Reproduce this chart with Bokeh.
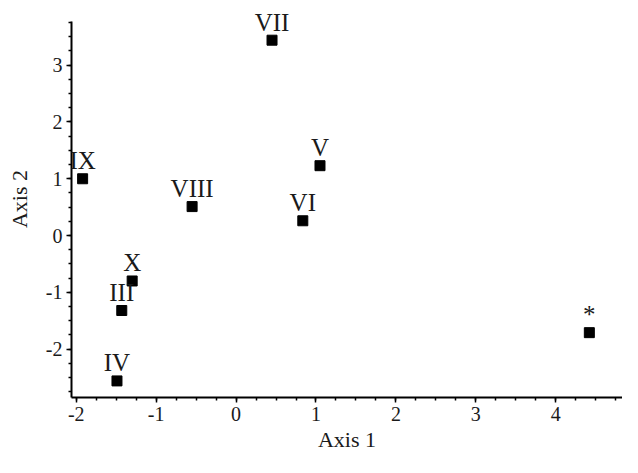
from bokeh.plotting import figure
from bokeh.models import ColumnDataSource, SingleIntervalTicker, Range1d, LabelSet
from bokeh.embed import file_html
from bokeh.resources import INLINE

# Data
labels = ["VII", "IX", "VIII", "VI", "V", "X", "III", "IV", "*"]
axis1 = [0.45, -1.92, -0.55, 0.835, 1.05, -1.30, -1.43, -1.49, 4.42]
axis2 = [3.44, 1.00, 0.51, 0.26, 1.23, -0.80, -1.32, -2.56, -1.71]

x_title = "Axis 1"
y_title = "Axis 2"
tick_values = [-2, -1, 0, 1, 2, 3, 4]
tick_texts = ["-2", "-1", "0", "1", "2", "3", "4"]
y_axis_extent = (-2.852, 3.769)

FONT = "Liberation Serif"

src = ColumnDataSource(data=dict(x=axis1, y=axis2, lab=labels))

p = figure(width=622, height=457, output_backend="svg", toolbar_location=None,
           x_range=Range1d(-2.059, 4.835), y_range=Range1d(-2.852, 4.139),
           min_border_left=71, min_border_right=0, min_border_top=0, min_border_bottom=60)
p.background_fill_color = "white"
p.border_fill_color = "white"
p.outline_line_color = None
p.xgrid.visible = False
p.ygrid.visible = False

p.scatter("x", "y", source=src, marker="square", size=10, fill_color="black", line_color="black")
p.add_layout(LabelSet(x="x", y="y", text="lab", source=src, text_align="center",
                      text_baseline="middle", y_offset=18, text_font=FONT,
                      text_font_size="25px", text_color="#1a1a1a"))

overrides = {v: t for v, t in zip(tick_values, tick_texts)}

for ax, title in ((p.xaxis[0], x_title), (p.yaxis[0], y_title)):
    ax.axis_label = title
    ax.axis_label_text_font = FONT
    ax.axis_label_text_font_size = "22px"
    ax.axis_label_text_font_style = "normal"
    ax.axis_label_text_color = "#1a1a1a"
    ax.major_label_text_font = FONT
    ax.major_label_text_font_size = "20px"
    ax.major_label_text_color = "#1a1a1a"
    ax.major_label_overrides = overrides
    ax.axis_line_color = "black"
    ax.axis_line_width = 2
    ax.major_tick_line_color = "black"
    ax.major_tick_line_width = 1.5
    ax.minor_tick_line_color = "black"
    ax.minor_tick_line_width = 1.5
    ax.major_tick_in = 0
    ax.major_tick_out = 5
    ax.minor_tick_in = 0
    ax.minor_tick_out = 3
    ax.ticker = SingleIntervalTicker(interval=1, num_minor_ticks=4)

p.yaxis.bounds = y_axis_extent
p.xaxis.major_label_standoff = 4
p.xaxis.axis_label_standoff = 3
p.yaxis.major_label_standoff = 4
p.yaxis.axis_label_standoff = 11
p.yaxis.major_label_orientation = "horizontal"

open("out.html", "w").write(file_html(p, INLINE))
